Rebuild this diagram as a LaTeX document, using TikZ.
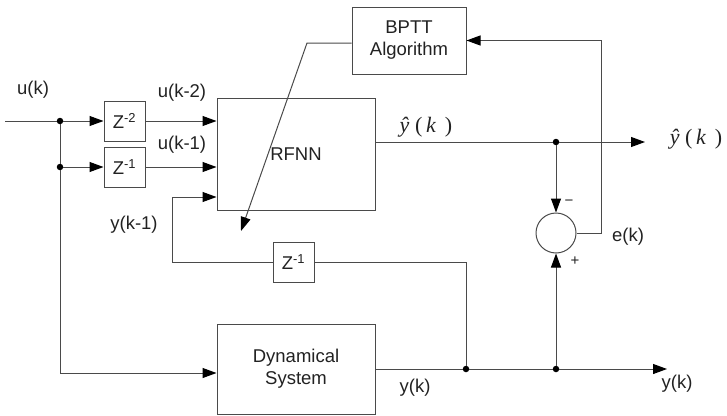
\documentclass[tikz,border=0pt]{standalone}
\usepackage{fontspec}
\setmainfont{Liberation Sans}
\newfontfamily\serifit{Liberation Serif}
\usetikzlibrary{arrows.meta,calc}

\definecolor{wire}{HTML}{4A4A4A}
\definecolor{ink}{HTML}{222222}

\tikzset{
  blk/.style={draw=wire, line width=1pt, fill=white, text=ink, align=center,
              inner sep=0pt, font=\fontsize{18.5}{22}\selectfont},
  dly/.style={blk, minimum width=41pt, minimum height=40pt},
  big/.style={blk, minimum width=158pt},
  wire/.style={draw=wire, line width=1pt},
  sig/.style={wire, -{Triangle[length=14pt,width=10pt,black]}},
  dot/.style={circle, fill=black, inner sep=0pt, minimum size=6.5pt},
  lbl/.style={text=ink, inner sep=0pt, font=\fontsize{18.5}{22}\selectfont},
  sgn/.style={text=ink, inner sep=0pt, font=\fontsize{15}{16}\selectfont},
  est/.style={text=ink, inner sep=0pt, font=\fontsize{22}{24}\selectfont},
}

\newcommand{\yhatk}{{\serifit\itshape ŷ\upshape\ (\,\itshape k\upshape\ \,)}}

\begin{document}
\begin{tikzpicture}[x=1pt,y=-1pt]
  \useasboundingbox (0,0) rectangle (727,415);

  % blocks
  \node[dly] (z2) at (124.5,121) {Z\textsuperscript{-2}};
  \node[dly] (z1) at (124.5,167) {Z\textsuperscript{-1}};
  \node[big, minimum height=112pt] (rfnn) at (296,154) {RFNN};
  \node[blk, minimum width=114pt, minimum height=67pt] (bptt) at (409,40.5) {BPTT\\Algorithm};
  \node[big, minimum height=90pt] (dyn) at (296,369) {Dynamical\\System};
  \node[dly] (zfb) at (293.5,262) {Z\textsuperscript{-1}};
  \node[circle, draw=wire, line width=1pt, minimum size=40pt, inner sep=0pt] (sum) at (556,233) {};

  % branch points and free ends
  \coordinate (in) at (5,121);
  \node[dot] (j1) at (60,121) {};
  \node[dot] (j2) at (60,167) {};
  \node[dot] (j3) at (556,142) {};
  \node[dot] (j4) at (466,369) {};
  \node[dot] (j5) at (556,369) {};
  \coordinate (yout) at (645,142);
  \coordinate (sysout) at (667,369);
  \coordinate (lp) at (172,197);
  \coordinate (ecol) at (601,233);
  \coordinate (bend) at (307,43);
  \coordinate (tip) at (241,231);

  % input distribution
  \draw[wire] (in) -- (j1);
  \draw[sig] (j1) -- (z2.west);
  \draw[wire] (j1) -- (j2);
  \draw[sig] (j2) -- (z1.west);
  \draw[sig] (j2) |- ($(dyn.west)+(0,4)$);

  % delayed inputs into the network
  \draw[sig] (z2.east) -- (z2.east -| rfnn.west);
  \draw[sig] (z1.east) -- (z1.east -| rfnn.west);

  % plant output and feedback through the delay
  \draw[wire] (dyn.east) -- (j4);
  \draw[wire] (j4) -- (j5);
  \draw[sig] (j5) -- (sysout);
  \draw[wire] (j4) |- (zfb.east);
  \draw[sig] (zfb.west) -| (lp) -- (lp -| rfnn.west);

  % network output and error
  \draw[wire] (rfnn.east |- j3) -- (j3);
  \draw[sig] (j3) -- (yout);
  \draw[sig] (j3) -- (sum.north);
  \draw[sig] (j5) -- (sum.south);
  \draw[sig] (sum.east) -- (ecol) |- (bptt.east);

  % weight update from the training algorithm
  \draw[sig] (bptt.west |- bend) -- (bend) -- (tip);

  % signal labels
  \node[lbl] (lu) at (33,90) {u(k)};
  \node[lbl] (lu2) at (182,93) {u(k-2)};
  \node[lbl] (lu1) at (182,145) {u(k-1)};
  \node[lbl] (ly1) at (134,225) {y(k-1)};
  \node[lbl] (ly) at (415,388) {y(k)};
  \node[lbl] (lyo) at (677,384) {y(k)};
  \node[lbl] (le) at (628,237) {e(k)};
  \node[sgn] (lm) at (569,203) {−};
  \node[sgn] (lpz) at (575,261) {+};
  \node[est] (lyh) at (426,127) {\yhatk};
  \node[est] (lyho) at (696,139) {\yhatk};
\end{tikzpicture}
\end{document}
